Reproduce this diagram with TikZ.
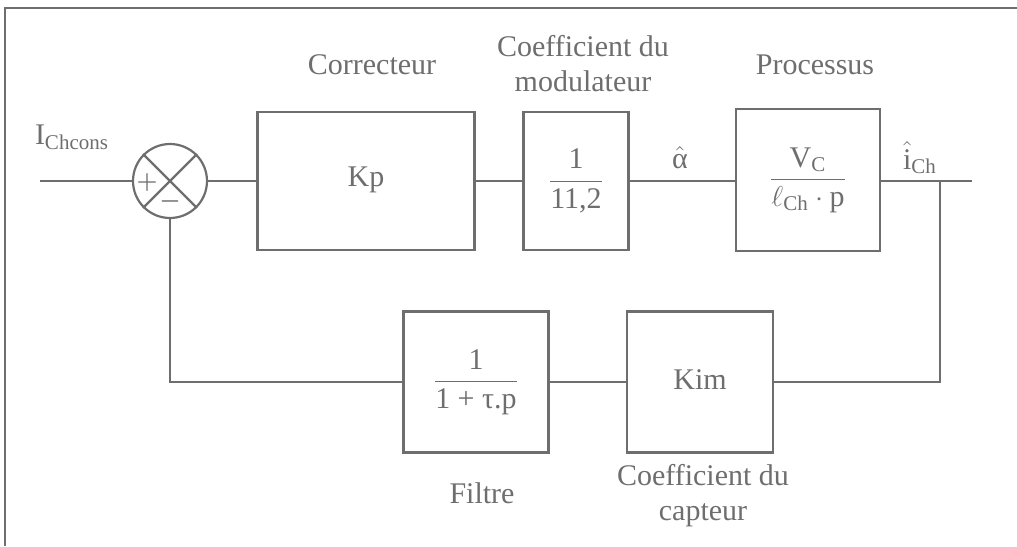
\documentclass[tikz,border=0pt]{standalone}
\usepackage{amsmath,amssymb}
\usepackage{fontspec}
\setmainfont{Liberation Serif}
\usepackage{tikz}
\usepackage{xcolor}
\definecolor{ink}{HTML}{6E6E6E}
\newcommand{\blocfrac}[2]{$\displaystyle\frac{\text{#1}}{\text{#2}}$}

\begin{document}
\begin{tikzpicture}[x=0.5pt,y=-0.5pt,line width=1.1pt,draw=ink,text=ink,
  every node/.style={font=\fontsize{15}{17.5}\selectfont},
  blocbox/.style={draw,rectangle,inner sep=0pt},
  sign/.style={inner sep=0pt,font=\fontsize{12}{14}\selectfont},
  txt/.style={align=center}]
\useasboundingbox (0,0) rectangle (1017,546);
\draw (1017,8) -- (5,8) -- (5,546);
\node[draw,circle,minimum size=37pt,inner sep=0pt] (sum) at (170,181) {};
\draw (sum.north west) -- (sum.south east);
\draw (sum.north east) -- (sum.south west);
\node[sign] (plus) at (147,182) {$\boldsymbol{+}$};
\node[sign] (minus) at (170,201) {$\boldsymbol{-}$};
\node[blocbox,minimum width=108.5pt,minimum height=69pt] (kp) at (366,181) {\raisebox{4pt}{Kp}};
\node[blocbox,minimum width=52.5pt,minimum height=69pt] (mod) at (576,181) {\blocfrac{1}{11,2}};
\node[blocbox,minimum width=72pt,minimum height=71pt] (proc) at (808,180)
  {$\displaystyle\frac{\text{V}_{\text{C}}}{\ell_{\text{Ch}}\cdot\text{p}}$};
\node[blocbox,minimum width=72.5pt,minimum height=70.5pt] (filt) at (476,382)
  {\blocfrac{1}{1 + τ.p}};
\node[blocbox,minimum width=73pt,minimum height=70.5pt] (kim) at (700,382) {\raisebox{2pt}{Kim}};
\coordinate (in) at (40,181);
\coordinate (out) at (972,181);
\coordinate (tap) at (940,181);
\node[txt] (lcor) at (372,65) {Correcteur};
\node[txt] (lmod) at (583,64) {Coefficient du\\modulateur};
\node[txt] (lproc) at (815,65) {Processus};
\node[inner sep=1pt] (lalpha) at (680,158) {$\hat{\text{α}}$};
\node[inner sep=1pt] (lich) at (920,158) {$\hat{\text{i}}_{\text{Ch}}$};
\node (lin) at (72,137) {I\textsubscript{Chcons}};
\node[txt] (lfilt) at (482,493) {Filtre};
\node[txt] (lkim) at (703,496) {Coefficient du\\capteur};
\draw (in) -- (sum.west);
\draw (sum.east) -- (kp.west);
\draw (kp.east) -- (mod.west);
\draw (mod.east) -- (proc.west |- mod.east);
\draw (proc.east |- tap) -- (out);
\draw (tap) |- (kim.east);
\draw (kim.west) -- (filt.east);
\draw (filt.west) -| (sum.south);
\end{tikzpicture}
\end{document}
